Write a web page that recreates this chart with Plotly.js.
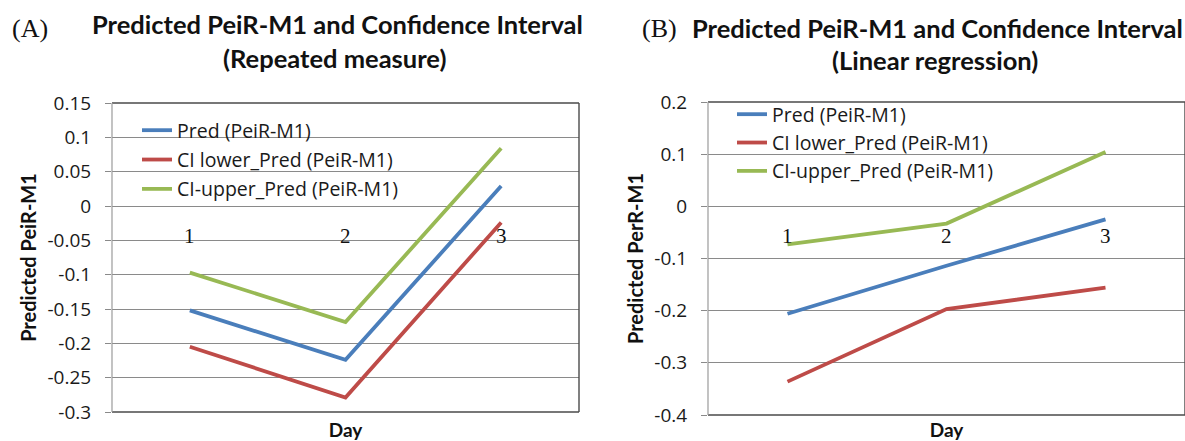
<!DOCTYPE html>
<html>
<head>
<meta charset="utf-8">
<script src="https://cdn.plot.ly/plotly-3.0.1.min.js"></script>
<style>
  html, body { margin: 0; padding: 0; background: #ffffff; }
  #chart { width: 1185px; height: 441px; }
</style>
</head>
<body>
<div id="chart"></div>
<script>
// Days on the horizontal axis
const days = ['1', '2', '3'];

// Series names (shared by both panels)
const seriesNames = ['Pred (PeiR-M1)', 'CI lower_Pred (PeiR-M1)', 'CI-upper_Pred (PeiR-M1)'];

// Panel A: repeated measure model
const predA  = [-0.152, -0.224, 0.029];
const lowerA = [-0.205, -0.279, -0.024];
const upperA = [-0.097, -0.169, 0.084];

// Panel B: linear regression model
const predB  = [-0.206, -0.114, -0.025];
const lowerB = [-0.336, -0.197, -0.156];
const upperB = [-0.073, -0.033, 0.104];

// Y-axis ticks
const yTicksA    = [0.15, 0.1, 0.05, 0, -0.05, -0.1, -0.15, -0.2, -0.25, -0.3];
const yTickTextA = ['0.15', '0.1', '0.05', '0', '-0.05', '-0.1', '-0.15', '-0.2', '-0.25', '-0.3'];
const yTicksB    = [0.2, 0.1, 0, -0.1, -0.2, -0.3, -0.4];
const yTickTextB = ['0.2', '0.1', '0', '-0.1', '-0.2', '-0.3', '-0.4'];

const colors = ['#4a7ebb', '#be4b48', '#98b954'];

const W = 1185, H = 441;
const px = v => v / W;            // horizontal pixel -> paper
const py = v => (H - v) / H;      // vertical pixel (from top) -> paper

const sans = '"Open Sans", Lato, sans-serif';
const bold = 'Lato, "Open Sans", sans-serif';
const serif = '"Liberation Serif", "DejaVu Serif", serif';

function series(values, i, xa, ya, legendId, group) {
  return {
    type: 'scatter', mode: 'lines',
    x: days, y: values,
    xaxis: xa, yaxis: ya,
    name: seriesNames[i],
    legend: legendId,
    legendgroup: group + i,
    line: { color: colors[i], width: 3.8 },
    hoverinfo: 'skip'
  };
}

const data = [
  series(predA, 0, 'x', 'y', 'legend', 'a'),
  series(lowerA, 1, 'x', 'y', 'legend', 'a'),
  series(upperA, 2, 'x', 'y', 'legend', 'a'),
  series(predB, 0, 'x2', 'y2', 'legend2', 'b'),
  series(lowerB, 1, 'x2', 'y2', 'legend2', 'b'),
  series(upperB, 2, 'x2', 'y2', 'legend2', 'b')
];

const tickFont = { family: sans, size: 19, color: '#1a1a1a' };
const yTitleFont = { family: bold, size: 20, color: '#111111', weight: 'bold' };
const xTitleFont = { family: bold, size: 19, color: '#111111', weight: 'bold' };

function yAxis(domain, ticks, texts, range, titleText, anchor) {
  return {
    domain: domain, anchor: anchor,
    range: range,
    tickmode: 'array', tickvals: ticks, ticktext: texts,
    showgrid: true, gridcolor: '#8a8a8a', gridwidth: 1,
    zeroline: false,
    showline: false,
    ticks: 'outside', ticklen: 6, tickcolor: '#8a8a8a', tickwidth: 1,
    ticklabelstandoff: 10,
    tickfont: tickFont,
    title: { text: titleText, font: yTitleFont, standoff: 5 },
    fixedrange: true
  };
}

function xAxis(domain, anchor, standoff) {
  return {
    domain: domain, anchor: anchor,
    type: 'category', categoryorder: 'array', categoryarray: days,
    range: [-0.5, 2.5],
    showgrid: false, zeroline: false, showline: false,
    showticklabels: false, ticks: '',
    title: { text: 'Day', font: xTitleFont, standoff: standoff },
    fixedrange: true
  };
}

const domA = { x: [px(112), px(579)], y: [py(412), py(103)] };
const domB = { x: [px(708), 1.0], y: [py(415), py(102)] };

// Frame of each plot area: dark top/right/bottom, lighter vertical axis
function frame(xr, yr) {
  const dark = { color: '#4a4a4a', width: 1.4 };
  const light = { color: '#9a9a9a', width: 1.2 };
  const xd = xr + ' domain', yd = yr + ' domain';
  return [
    { type: 'line', xref: xd, yref: yd, x0: 0, x1: 1, y0: 1, y1: 1, line: dark, layer: 'above' },
    { type: 'line', xref: xd, yref: yd, x0: 1, x1: 1, y0: 0, y1: 1, line: dark, layer: 'above' },
    { type: 'line', xref: xd, yref: yd, x0: 0, x1: 1, y0: 0, y1: 0, line: dark, layer: 'above' },
    { type: 'line', xref: xd, yref: yd, x0: 0, x1: 0, y0: 0, y1: 1, line: light, layer: 'above' }
  ];
}

// Day labels sit just under the zero line, as in a chart whose category axis crosses at 0
function dayLabels(xr, yr) {
  return days.map((d, i) => ({
    x: i, y: 0, xref: xr, yref: yr,
    text: d, showarrow: false,
    yanchor: 'middle', yshift: -30,
    font: { family: serif, size: 21, color: '#111111' }
  }));
}

const titleFont = { family: bold, size: 25.5, color: '#111111', weight: 'bold' };
const panelFont = { family: serif, size: 26, color: '#111111' };

function textAt(text, x, y, font, xanchor) {
  return {
    xref: 'paper', yref: 'paper', x: px(x), y: py(y),
    xanchor: xanchor || 'center', yanchor: 'middle',
    text: text, showarrow: false, font: font
  };
}

const annotations = [
  textAt('(A)', 10, 28, panelFont, 'left'),
  textAt('Predicted PeiR-M1 and Confidence Interval', 337, 24, titleFont),
  textAt('(Repeated measure)', 334, 58, titleFont),
  textAt('(B)', 640, 28, panelFont, 'left'),
  textAt('Predicted PeiR-M1 and Confidence Interval', 937, 28, titleFont),
  textAt('(Linear regression)', 935, 60, titleFont)
].concat(dayLabels('x', 'y'), dayLabels('x2', 'y2'));

const legendFont = { family: sans, size: 19.5, color: '#1a1a1a' };

const layout = {
  width: W, height: H,
  margin: { l: 0, r: 0, t: 0, b: 0 },
  paper_bgcolor: '#ffffff', plot_bgcolor: '#ffffff',
  showlegend: true,
  xaxis: xAxis(domA.x, 'y', 13),
  yaxis: yAxis(domA.y, yTicksA, yTickTextA, [-0.3, 0.15], 'Predicted PeiR-M1', 'x'),
  xaxis2: xAxis(domB.x, 'y2', 16),
  yaxis2: yAxis(domB.y, yTicksB, yTickTextB, [-0.4, 0.2], 'Predicted PerR-M1', 'x2'),
  legend: {
    x: px(137), xanchor: 'left', y: py(111), yanchor: 'top',
    bgcolor: 'rgba(0,0,0,0)', borderwidth: 0,
    font: legendFont, traceorder: 'grouped', tracegroupgap: 1
  },
  legend2: {
    x: px(732), xanchor: 'left', y: py(95), yanchor: 'top',
    bgcolor: 'rgba(0,0,0,0)', borderwidth: 0,
    font: legendFont, traceorder: 'grouped', tracegroupgap: 0
  },
  shapes: frame('x', 'y').concat(frame('x2', 'y2')),
  annotations: annotations
};

Plotly.newPlot('chart', data, layout, { displayModeBar: false, staticPlot: true });
</script>
</body>
</html>
